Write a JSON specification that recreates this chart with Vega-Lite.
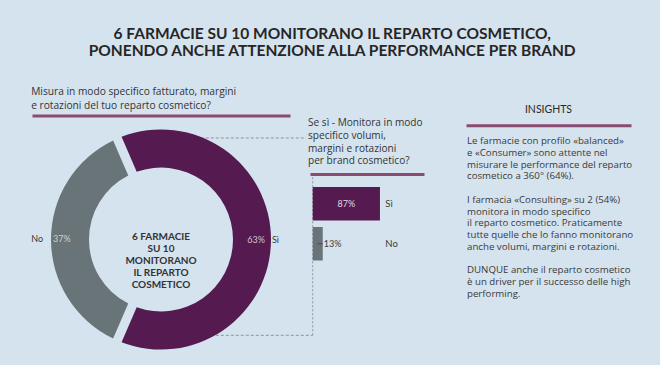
{
  "$schema": "https://vega.github.io/schema/vega-lite/v6.json",
  "background": "#d5e3ef",
  "padding": {"left": 31, "top": 26.5, "right": 30, "bottom": 10},
  "title": {
    "text": ["6 FARMACIE SU 10 MONITORANO IL REPARTO COSMETICO,", "PONENDO ANCHE ATTENZIONE ALLA PERFORMANCE PER BRAND"],
    "fontSize": 15.5, "fontWeight": "bold", "font": "Lato", "color": "#262626",
    "lineHeight": 17, "anchor": "middle", "offset": 28
  },
  "bounds": "flush",
  "spacing": 20,
  "hconcat": [
    {
      "width": 258, "height": 248,
      "title": {
        "text": ["Misura in modo specifico fatturato, margini", "e rotazioni del tuo reparto cosmetico?"],
        "anchor": "start", "fontSize": 10.2, "fontWeight": "normal", "lineHeight": 14,
        "color": "#333333", "offset": 4, "font": "Open Sans"
      },
      "layer": [
        {
          "data": {"values": [{}]},
          "mark": {"type": "rule", "color": "#8d959b", "strokeWidth": 1, "strokeDash": [3, 2]},
          "encoding": {
            "x": {"datum": -0.32, "type": "quantitative",
              "scale": {"domain": [-1.1727, 1.1727], "nice": false, "zero": false},
              "axis": {"orient": "top", "domainColor": "#8b4a72", "domainWidth": 3, "ticks": false, "labels": false, "grid": false, "title": null, "offset": 0}},
            "x2": {"datum": 1.318},
            "y": {"datum": 0.923, "type": "quantitative",
              "scale": {"domain": [-1.1273, 1.1273], "nice": false, "zero": false}, "axis": null}
          }
        },
        {
          "data": {"values": [{}]},
          "mark": {"type": "rule", "color": "#8d959b", "strokeWidth": 1, "strokeDash": [3, 2]},
          "encoding": {
            "x": {"datum": -0.32, "type": "quantitative"},
            "x2": {"datum": 1.379},
            "y": {"datum": -0.871, "type": "quantitative"}
          }
        },
        {
          "data": {"values": [{}]},
          "mark": {"type": "rule", "color": "#8d959b", "strokeWidth": 1, "strokeDash": [2, 2]},
          "encoding": {
            "x": {"datum": 1.379, "type": "quantitative"},
            "y": {"datum": -0.871, "type": "quantitative"},
            "y2": {"datum": 0.595}
          }
        },
        {
          "data": {"values": [
            {"cat": "Sì", "value": 63, "pct": "63%"},
            {"cat": "No", "value": 37, "pct": "37%"}
          ]},
          "layer": [
            {
              "mark": {"type": "arc", "radius": 110, "radius2": 72, "padAngle": 0.07},
              "encoding": {
                "theta": {"field": "value", "type": "quantitative", "stack": true, "scale": {"range": [-0.4084, 5.8748]}},
                "order": {"field": "value", "type": "quantitative", "sort": "descending"},
                "color": {"field": "cat", "type": "nominal", "scale": {"domain": ["Sì", "No"], "range": ["#551a50", "#687477"]}, "legend": null}
              }
            },
            {
              "mark": {"type": "text", "radius": 104, "align": "right", "baseline": "middle", "fontSize": 9, "color": "#d4c3d2", "font": "Lato"},
              "encoding": {
                "theta": {"field": "value", "type": "quantitative", "stack": true},
                "order": {"field": "value", "type": "quantitative", "sort": "descending"},
                "text": {"condition": {"test": "datum.cat === 'Sì'", "field": "pct"}, "value": ""}
              }
            },
            {
              "mark": {"type": "text", "radius": 111, "align": "left", "baseline": "middle", "fontSize": 9, "color": "#3a3a3a", "font": "Lato"},
              "encoding": {
                "theta": {"field": "value", "type": "quantitative", "stack": true},
                "order": {"field": "value", "type": "quantitative", "sort": "descending"},
                "text": {"condition": {"test": "datum.cat === 'Sì'", "field": "cat"}, "value": ""}
              }
            },
            {
              "mark": {"type": "text", "radius": 118, "align": "right", "baseline": "middle", "fontSize": 9, "color": "#3a3a3a", "font": "Lato"},
              "encoding": {
                "theta": {"field": "value", "type": "quantitative", "stack": true},
                "order": {"field": "value", "type": "quantitative", "sort": "descending"},
                "text": {"condition": {"test": "datum.cat === 'No'", "field": "cat"}, "value": ""}
              }
            },
            {
              "mark": {"type": "text", "radius": 108, "align": "left", "baseline": "middle", "fontSize": 9, "color": "#c9d0d4", "font": "Lato"},
              "encoding": {
                "theta": {"field": "value", "type": "quantitative", "stack": true},
                "order": {"field": "value", "type": "quantitative", "sort": "descending"},
                "text": {"condition": {"test": "datum.cat === 'No'", "field": "pct"}, "value": ""}
              }
            }
          ]
        },
        {
          "data": {"values": [{"t": "6 FARMACIE\nSU 10\nMONITORANO\nIL REPARTO\nCOSMETICO"}]},
          "mark": {"type": "text", "lineBreak": "\n", "align": "center", "baseline": "middle", "fontSize": 10, "fontWeight": "bold", "lineHeight": 12.2, "color": "#333333", "dy": -3, "font": "Lato"},
          "encoding": {"text": {"field": "t"}}
        }
      ]
    },
    {
      "width": 114, "height": 145,
      "title": {
        "text": ["Se sì - Monitora in modo", "specifico volumi,", "margini e rotazioni", "per brand cosmetico?"],
        "anchor": "start", "fontSize": 10.1, "fontWeight": "normal", "lineHeight": 12.8,
        "color": "#333333", "offset": -51, "dx": -2, "font": "Open Sans"
      },
      "data": {"values": [
        {"cat": "Sì", "value": 87, "pct": "87%"},
        {"cat": "No", "value": 13, "pct": "13%"}
      ]},
      "layer": [
        {
          "layer": [
            {
              "mark": {"type": "bar"},
              "encoding": {
                "y": {"field": "cat", "type": "nominal", "sort": ["Sì", "No"], "axis": null,
                  "scale": {"paddingInner": 0.1625, "paddingOuter": 0.894, "align": 1, "round": false}},
                "x": {"field": "value", "type": "quantitative",
                  "scale": {"domain": [-3.5, 144], "nice": false, "zero": false},
                  "axis": {"orient": "top", "domainColor": "#8b4a72", "domainWidth": 3, "ticks": false, "labels": false, "grid": false, "title": null, "offset": -58.5}},
                "x2": {"datum": 0},
                "color": {"field": "cat", "type": "nominal", "scale": {"domain": ["Sì", "No"], "range": ["#7b4669", "#6a7578"]}, "legend": null}
              }
            },
            {
              "mark": {"type": "text", "align": "left", "baseline": "middle", "fontSize": 9.5, "color": "#3a3a3a", "font": "Lato"},
              "encoding": {
                "y": {"field": "cat", "type": "nominal", "sort": ["Sì", "No"]},
                "x": {"datum": 94, "type": "quantitative"},
                "text": {"field": "cat"}
              }
            }
          ]
        },
        {
          "layer": [
            {
              "transform": [{"filter": "datum.cat === 'Sì'"}],
              "mark": {"type": "text", "align": "center", "baseline": "middle", "fontSize": 9, "color": "#e6d6e2", "font": "Lato"},
              "encoding": {
                "y": {"field": "cat", "type": "nominal", "sort": ["Sì", "No"]},
                "x": {"field": "value", "type": "quantitative", "scale": {"domain": [-7, 288], "nice": false, "zero": false}, "axis": null},
                "text": {"field": "pct"}
              }
            },
            {
              "transform": [{"filter": "datum.cat === 'No'"}],
              "mark": {"type": "text", "align": "left", "baseline": "middle", "fontSize": 9, "color": "#3a3a3a", "dx": 6, "font": "Lato"},
              "encoding": {
                "y": {"field": "cat", "type": "nominal", "sort": ["Sì", "No"]},
                "x": {"field": "value", "type": "quantitative"},
                "text": {"field": "pct"}
              }
            },
            {
              "transform": [{"filter": "datum.cat === 'No'"}],
              "mark": {"type": "tick", "orient": "horizontal", "size": 5, "thickness": 1, "color": "#3a3a3a", "xOffset": 2.5},
              "encoding": {
                "y": {"field": "cat", "type": "nominal", "sort": ["Sì", "No"]},
                "x": {"field": "value", "type": "quantitative"}
              }
            }
          ]
        }
      ],
      "resolve": {"scale": {"x": "independent"}}
    },
    {
      "width": 2, "height": 10,
      "data": {"values": [{}]},
      "mark": {"type": "point", "opacity": 0}
    },
    {
      "width": 165, "height": 164.8,
      "title": {
        "text": "INSIGHTS", "anchor": "middle", "fontSize": 10.5, "fontWeight": "normal",
        "color": "#2a2a2a", "offset": 0, "font": "Lato"
      },
      "data": {"values": [
        {"n": 1, "t": "Le farmacie con profilo «balanced»"},
        {"n": 2, "t": "e «Consumer» sono attente nel"},
        {"n": 3, "t": "misurare le performance del reparto"},
        {"n": 4, "t": "cosmetico a 360° (64%)."},
        {"n": 5, "t": ""},
        {"n": 6, "t": "I farmacia «Consulting» su 2 (54%)"},
        {"n": 7, "t": "monitora in modo specifico"},
        {"n": 8, "t": "il reparto cosmetico. Praticamente"},
        {"n": 9, "t": "tutte quelle che lo fanno monitorano"},
        {"n": 10, "t": "anche volumi, margini e rotazioni."},
        {"n": 11, "t": ""},
        {"n": 12, "t": "DUNQUE anche il reparto cosmetico"},
        {"n": 13, "t": "è un driver per il successo delle high"},
        {"n": 14, "t": "performing."}
      ]},
      "mark": {"type": "text", "align": "left", "baseline": "alphabetic", "fontSize": 9.7, "color": "#3a3a3a", "dx": 1, "dy": 22.6, "font": "Open Sans"},
      "encoding": {
        "y": {"field": "n", "type": "ordinal", "sort": "ascending", "axis": null},
        "x": {"datum": 0, "type": "quantitative", "scale": {"domain": [0, 1], "nice": false},
          "axis": {"orient": "top", "domainColor": "#8b4a72", "domainWidth": 3, "ticks": false, "labels": false, "grid": false, "title": null, "offset": -9.8}},
        "text": {"field": "t"}
      }
    }
  ],
  "config": {
    "view": {"stroke": null},
    "font": "Lato"
  }
}
